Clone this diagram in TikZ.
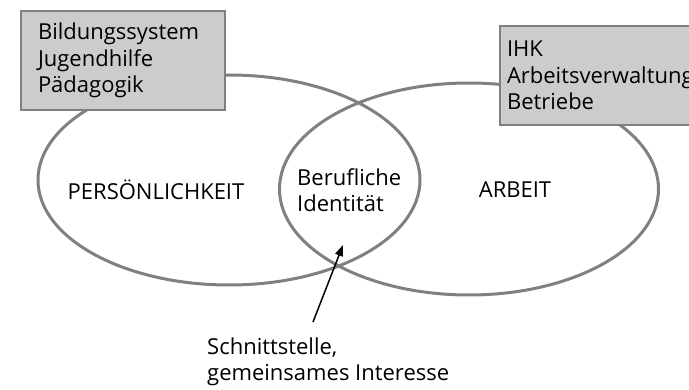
\documentclass[tikz,border=0pt]{standalone}
\usepackage{fontspec}
\setmainfont{Open Sans}
\usetikzlibrary{%
  positioning
 ,shapes
 ,arrows.meta
}
\definecolor{rimgray}{RGB}{128,128,128}
\definecolor{boxgray}{RGB}{204,204,204}
\tikzstyle{ring}=[ellipse,draw=rimgray,line width=3pt,inner sep=0pt]
\tikzstyle{tag}=[rectangle,draw=rimgray,fill=boxgray,line width=2pt,align=left,anchor=north west,inner ysep=0pt]
\tikzstyle{lbl}=[inner sep=0pt,align=left]

\begin{document}
\begin{tikzpicture}[x=1pt,y=-1pt,font=\fontsize{22}{26.5}\selectfont]
      \useasboundingbox (0,0) rectangle (689,390);
      \node[ring,minimum width=382pt,minimum height=210pt] (pers) at (229,180) {};
      \node[ring,minimum width=379pt,minimum height=212pt] (arb) at (469,189) {};
      \node[tag,text width=170pt,inner xsep=17pt,minimum height=99pt] (bild) at (20,10)
        {Bildungssystem\\Jugendhilfe\\P\"adagogik};
      \node[tag,text width=200pt,inner xsep=7pt,minimum height=99pt] (ihk) at (499,25)
        {IHK\\Arbeitsverwaltung\\Betriebe};
      \node[lbl] (perslbl) at (156,190) {PERS\"ONLICHKEIT};
      \node[lbl,anchor=west] (ident) at (297,190) {Berufliche\\Identit\"at};
      \node[lbl] (arblbl) at (515,190) {ARBEIT};
      \node[lbl,anchor=west] (schnitt) at (207,362) {Schnittstelle,\\gemeinsames Interesse};
      \coordinate (tail) at (313,322);
      \coordinate (tip) at (343,245);
      \draw[-{Triangle[length=11pt,width=8pt]},line width=1.5pt] (tail) -- (tip);
\end{tikzpicture}
\end{document}
